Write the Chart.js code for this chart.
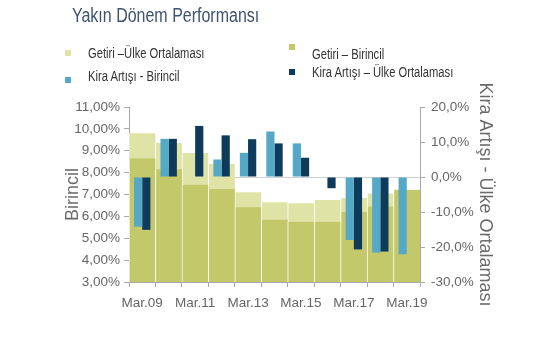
<!DOCTYPE html>
<html>
<head>
<meta charset="utf-8">
<script src="https://cdn.jsdelivr.net/npm/chart.js@4.4.1/dist/chart.umd.min.js"></script>
<style>
  html, body { margin: 0; padding: 0; background: #ffffff; }
  #wrap { position: relative; width: 555px; height: 355px; overflow: hidden; }
  #c { position: absolute; left: 0; top: 0; }
  .arial { font-family: "Liberation Sans", Arial, sans-serif; }
  #title { position: absolute; left: 72px; top: 4px; font-size: 19.5px; color: #3f5270; white-space: nowrap;
           transform: scaleX(0.82); transform-origin: 0 0; }
  .lg { position: absolute; font-size: 14px; color: #333; white-space: nowrap; line-height: 16px;
        transform: scaleX(0.8); transform-origin: 0 0; }
  .sq { position: absolute; width: 6px; height: 6px; }
</style>
</head>
<body>
<div id="wrap">
  <canvas id="c" width="555" height="355"></canvas>
  <div id="title" class="arial">Yakın Dönem Performansı</div>
  <div class="sq" style="left:65px;top:50px;background:#dfe3a6;"></div>
  <div class="lg arial" style="left:88px;top:45px;">Getiri –Ülke Ortalaması</div>
  <div class="sq" style="left:65px;top:77px;background:#55a9c6;"></div>
  <div class="lg arial" style="left:88px;top:68px;">Kira Artışı - Birincil</div>
  <div class="sq" style="left:289px;top:44px;background:#c3c96a;"></div>
  <div class="lg arial" style="left:312px;top:46px;">Getiri – Birincil</div>
  <div class="sq" style="left:289px;top:69px;background:#0e3a5c;"></div>
  <div class="lg arial" style="left:312px;top:64px;">Kira Artışı – Ülke Ortalaması</div>
</div>
<script>
// ---- data ----
const categories = ['Mar.09','Mar.10','Mar.11','Mar.12','Mar.13','Mar.14','Mar.15','Mar.16','Mar.17','Mar.18','Mar.19'];
const getiriUlke = [9.8, 9.35, 8.9, 8.4, 7.1, 6.65, 6.6, 6.75, 6.85, 7.05, 7.0];
const getiriBirincil = [8.65, 8.15, 7.45, 7.25, 6.42, 5.85, 5.75, 5.75, 6.2, 6.45, 7.22];
const kiraBirincil = [-14.2, 10.9, null, 5.0, 6.9, 13.0, 9.6, null, -18.0, -21.6, -22.1];
const kiraUlke = [-15.1, 10.9, 14.6, 11.9, 10.8, 9.6, 5.5, -3.2, -20.7, -21.3, null];
const leftTicks = [3, 4, 5, 6, 7, 8, 9, 10, 11];
const rightTicks = [-30, -20, -10, 0, 10, 20];

const FONT = '"Liberation Sans", Arial, sans-serif';
const TICKCOL = '#666666';
const AXISCOL = '#a8a8a8';

new Chart(document.getElementById('c'), {
  type: 'bar',
  data: {
    labels: categories,
    datasets: [
      { label: 'Kira Artışı - Birincil', data: kiraBirincil, yAxisID: 'y2', order: 1,
        backgroundColor: '#55a9c6', categoryPercentage: 0.62, barPercentage: 1 },
      { label: 'Kira Artışı – Ülke Ortalaması', data: kiraUlke, yAxisID: 'y2', order: 2,
        backgroundColor: '#0e3a5c', categoryPercentage: 0.62, barPercentage: 1 },
      { label: 'Getiri – Birincil', data: getiriBirincil, yAxisID: 'y', order: 3, grouped: false,
        backgroundColor: '#c3c96a', borderColor: 'rgba(255,255,255,0.75)',
        borderWidth: { left: 1, right: 0, top: 0, bottom: 0 }, borderSkipped: false,
        categoryPercentage: 1, barPercentage: 1 },
      { label: 'Getiri –Ülke Ortalaması', data: getiriUlke, yAxisID: 'y', order: 4, grouped: false,
        backgroundColor: '#dfe3a6', borderColor: 'rgba(255,255,255,0.75)',
        borderWidth: { left: 1, right: 0, top: 0, bottom: 0 }, borderSkipped: false,
        categoryPercentage: 1, barPercentage: 1 }
    ]
  },
  options: {
    responsive: false,
    animation: false,
    layout: { padding: { left: 0, right: 0, top: 107, bottom: 0 } },
    plugins: { legend: { display: false }, tooltip: { enabled: false }, title: { display: false } },
    scales: {
      x: {
        offset: true,
        afterFit: (s) => { s.height = 73; },
        border: { display: true, color: AXISCOL, width: 1 },
        grid: { offset: true, drawOnChartArea: false, color: AXISCOL, tickLength: 5 },
        ticks: {
          autoSkip: false, maxRotation: 0, padding: 8, color: TICKCOL,
          font: { family: FONT, size: 13.5 },
          callback: function (v, i) { return i % 2 === 0 ? this.getLabelForValue(v) : ''; }
        }
      },
      y: {
        position: 'left', min: 3, max: 11,
        afterFit: (s) => { s.width = 129; },
        afterBuildTicks: (s) => { s.ticks = leftTicks.map(v => ({ value: v })); },
        border: { display: true, color: AXISCOL, width: 1 },
        grid: { drawOnChartArea: false, color: AXISCOL, tickLength: 5 },
        ticks: { padding: 4, color: TICKCOL, font: { family: FONT, size: 13.5 },
          callback: (v) => v.toFixed(2).replace('.', ',') + '%' },
        title: { display: true, text: 'Birincil', color: '#6a6a6a',
          font: { family: FONT, size: 18 }, padding: { top: 62, bottom: 0 } }
      },
      y2: {
        position: 'right', min: -30, max: 20, z: 1,
        afterFit: (s) => { s.width = 135; },
        afterBuildTicks: (s) => { s.ticks = rightTicks.map(v => ({ value: v })); },
        border: { display: true, color: AXISCOL, width: 1 },
        grid: { drawOnChartArea: true, tickLength: 5, tickColor: AXISCOL,
          color: (ctx) => (ctx.tick && ctx.tick.value === 0) ? 'rgba(190,190,190,0.7)' : 'rgba(0,0,0,0)' },
        ticks: { padding: 6, color: TICKCOL, font: { family: FONT, size: 13.5 },
          callback: (v) => v.toFixed(1).replace('.', ',') + '%' },
        title: { display: true, text: 'Kira Artışı - Ülke Ortalaması', color: '#6a6a6a',
          font: { family: FONT, size: 18 }, padding: { top: 59, bottom: 0 } }
      }
    }
  }
});
</script>
</body>
</html>
